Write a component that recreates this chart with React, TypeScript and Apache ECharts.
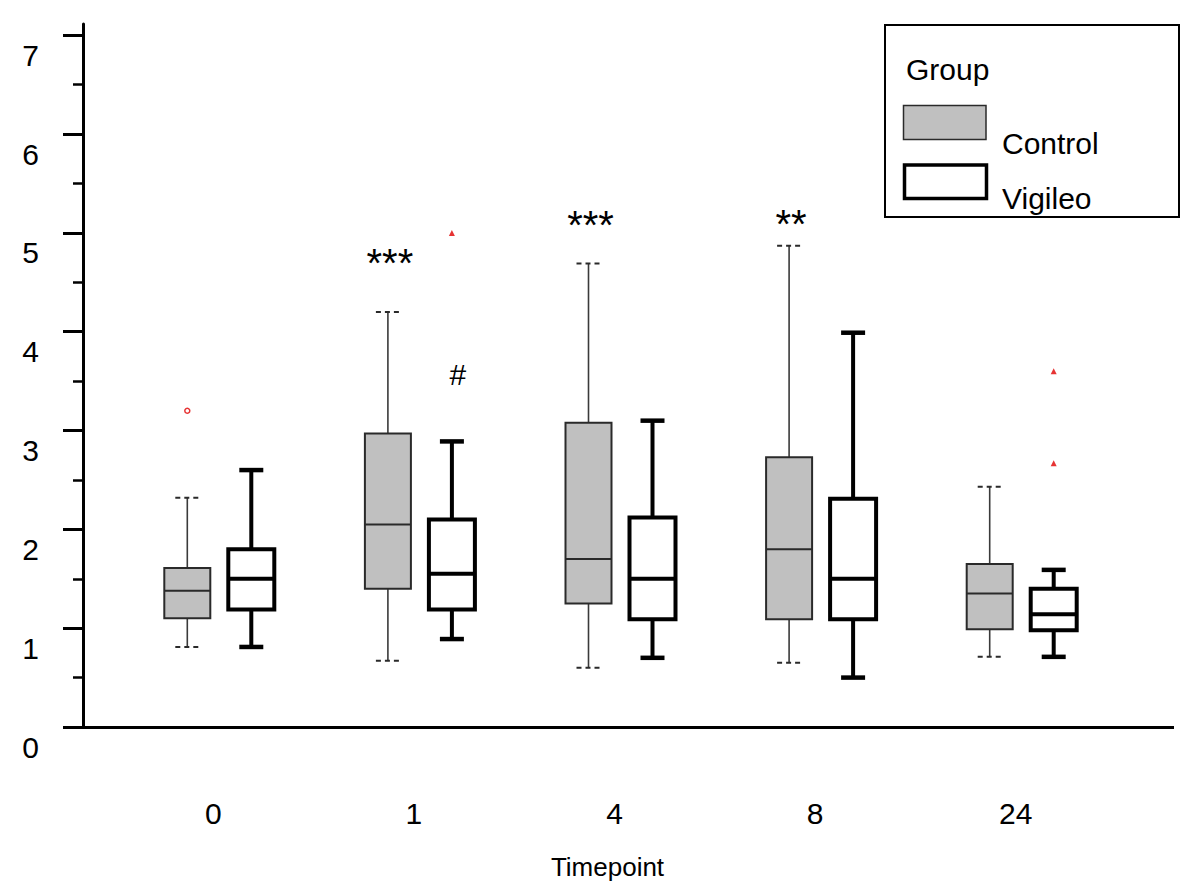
import React, { useEffect, useRef } from "react";
import * as echarts from "echarts";

const categories = ["0", "1", "4", "8", "24"];

// Control group box statistics: [min, Q1, median, Q3, max]
const controlMin = [0.81, 0.67, 0.6, 0.65, 0.71];
const controlQ1 = [1.1, 1.4, 1.25, 1.09, 0.99];
const controlMedian = [1.38, 2.05, 1.7, 1.8, 1.35];
const controlQ3 = [1.61, 2.97, 3.08, 2.73, 1.65];
const controlMax = [2.32, 4.2, 4.69, 4.87, 2.43];

// Vigileo group box statistics
const vigileoMin = [0.81, 0.89, 0.7, 0.5, 0.71];
const vigileoQ1 = [1.19, 1.19, 1.09, 1.09, 0.98];
const vigileoMedian = [1.5, 1.55, 1.5, 1.5, 1.14];
const vigileoQ3 = [1.8, 2.1, 2.12, 2.31, 1.4];
const vigileoMax = [2.6, 2.89, 3.1, 3.99, 1.59];

// Outliers: [category index, value]
const controlOutliers = [[0, 3.2]];
const vigileoOutliers = [
  [1, 5.0],
  [4, 3.6],
  [4, 2.67],
];

// Significance annotations: [category index, value, text]
const controlMarks = [
  [1, 4.7, "***"],
  [2, 5.08, "***"],
  [3, 5.09, "**"],
];
const vigileoMarks = [[1, 3.57, "#"]];

const yMajorTicks = [0, 1, 2, 3, 4, 5, 6, 7];
const yMinorTicks = [0.5, 1.5, 2.5, 3.5, 4.5, 5.5, 6.5];

const FONT = "'Liberation Sans', Arial, sans-serif";
const CONTROL_OFFSET = -32;
const VIGILEO_OFFSET = 32;
const BOX_W = 46;
const CAP_W = 24;

function boxData(mins: number[], q1: number[], med: number[], q3: number[], maxs: number[]) {
  return categories.map((_, i) => [i, mins[i], q1[i], med[i], q3[i], maxs[i]]);
}

function makeBoxRenderer(offset: number, opts: any) {
  return (params: any, api: any) => {
    const idx = api.value(0);
    const cx = api.coord([idx, 0])[0] + offset;
    const yMin = api.coord([idx, api.value(1)])[1];
    const yQ1 = api.coord([idx, api.value(2)])[1];
    const yMed = api.coord([idx, api.value(3)])[1];
    const yQ3 = api.coord([idx, api.value(4)])[1];
    const yMax = api.coord([idx, api.value(5)])[1];
    const whiskerStyle = { stroke: opts.whiskerColor, lineWidth: opts.whiskerWidth };
    const capStyle = {
      stroke: opts.capColor,
      lineWidth: opts.capWidth,
      lineDash: opts.capDash || null,
    };
    return {
      type: "group",
      children: [
        { type: "line", shape: { x1: cx, y1: yMin, x2: cx, y2: yQ1 }, style: whiskerStyle },
        { type: "line", shape: { x1: cx, y1: yQ3, x2: cx, y2: yMax }, style: whiskerStyle },
        {
          type: "line",
          shape: { x1: cx - CAP_W / 2, y1: yMin, x2: cx + CAP_W / 2, y2: yMin },
          style: capStyle,
        },
        {
          type: "line",
          shape: { x1: cx - CAP_W / 2, y1: yMax, x2: cx + CAP_W / 2, y2: yMax },
          style: capStyle,
        },
        {
          type: "rect",
          shape: { x: cx - BOX_W / 2, y: yQ3, width: BOX_W, height: yQ1 - yQ3 },
          style: { fill: opts.fill, stroke: opts.boxColor, lineWidth: opts.boxWidth },
        },
        {
          type: "line",
          shape: { x1: cx - BOX_W / 2, y1: yMed, x2: cx + BOX_W / 2, y2: yMed },
          style: { stroke: opts.boxColor, lineWidth: opts.medianWidth },
        },
      ],
    };
  };
}

export default function App() {
  const ref = useRef<HTMLDivElement>(null);
  useEffect(() => {
    if (!ref.current) return;
    const chart = echarts.init(ref.current, null, { renderer: "svg" });

    const textRenderer = (marks: any[], offset: number, font: string) => (params: any, api: any) => {
      const idx = api.value(0);
      const p = api.coord([idx, api.value(1)]);
      return {
        type: "text",
        x: p[0] + offset,
        y: p[1],
        style: {
          text: marks[params.dataIndex][2],
          font,
          fill: "#000",
          align: "center",
          verticalAlign: "middle",
          textAlign: "center",
          textVerticalAlign: "middle",
        },
      };
    };

    const legendText = (text: string, x: number, y: number) => ({
      type: "text",
      x,
      y,
      style: {
        text,
        font: `30px ${FONT}`,
        fill: "#000",
        align: "left",
        verticalAlign: "middle",
        textAlign: "left",
        textVerticalAlign: "middle",
      },
      z: 11,
    });

    const option: any = {
      animation: false,
      backgroundColor: "#fff",
      grid: { left: 119, right: 78, top: 24, bottom: 169, containLabel: false },
      xAxis: {
        type: "category",
        data: categories,
        boundaryGap: true,
        axisLine: { show: false },
        axisTick: { show: false },
        splitLine: { show: false },
        axisLabel: {
          fontSize: 30,
          fontFamily: FONT,
          color: "#000",
          margin: 71,
          lineHeight: 30,
          padding: [0, 12, 0, 0],
        },
        name: "Timepoint",
        nameLocation: "middle",
        nameGap: 127,
        nameTextStyle: {
          fontSize: 26,
          fontFamily: FONT,
          color: "#000",
          lineHeight: 26,
          verticalAlign: "top",
          padding: [0, 26, 0, 0],
        },
      },
      yAxis: [
        {
          type: "value",
          min: 0,
          max: 7.114,
          position: "left",
          offset: 36,
          splitLine: { show: false },
          axisLine: { show: true, lineStyle: { color: "#000", width: 3 } },
          axisTick: {
            show: true,
            length: 20,
            customValues: yMajorTicks,
            lineStyle: { color: "#000", width: 3 },
          },
          axisLabel: {
            show: true,
            customValues: yMajorTicks,
            fontSize: 30,
            fontFamily: FONT,
            color: "#000",
            margin: 44,
            verticalAlign: "top",
            lineHeight: 30,
            padding: [5, 0, 0, 0],
          },
        },
        {
          type: "value",
          min: 0,
          max: 7.114,
          position: "left",
          offset: 36,
          splitLine: { show: false },
          axisLine: { show: false },
          axisTick: {
            show: true,
            length: 10,
            customValues: yMinorTicks,
            lineStyle: { color: "#000", width: 2.5 },
          },
          axisLabel: { show: false },
        },
      ],
      series: [
        {
          type: "custom",
          name: "Control",
          data: boxData(controlMin, controlQ1, controlMedian, controlQ3, controlMax),
          renderItem: makeBoxRenderer(CONTROL_OFFSET, {
            fill: "#c0c0c0",
            boxColor: "#2a2a2a",
            boxWidth: 2,
            medianWidth: 2,
            whiskerColor: "#3a3a3a",
            whiskerWidth: 1.6,
            capColor: "#2a2a2a",
            capWidth: 2,
            capDash: [5, 4],
          }),
          encode: { x: 0, y: [1, 2, 3, 4, 5] },
          z: 2,
        },
        {
          type: "custom",
          name: "Vigileo",
          data: boxData(vigileoMin, vigileoQ1, vigileoMedian, vigileoQ3, vigileoMax),
          renderItem: makeBoxRenderer(VIGILEO_OFFSET, {
            fill: "#fff",
            boxColor: "#000",
            boxWidth: 4,
            medianWidth: 4,
            whiskerColor: "#000",
            whiskerWidth: 4,
            capColor: "#000",
            capWidth: 4.5,
          }),
          encode: { x: 0, y: [1, 2, 3, 4, 5] },
          z: 2,
        },
        {
          type: "scatter",
          name: "Control outliers",
          data: controlOutliers,
          symbol: "circle",
          symbolSize: 5,
          symbolOffset: [CONTROL_OFFSET, 0],
          itemStyle: { color: "#fff", borderColor: "#e00000", borderWidth: 1.5 },
          z: 3,
        },
        {
          type: "scatter",
          name: "Vigileo outliers",
          data: vigileoOutliers,
          symbol: "triangle",
          symbolSize: 6,
          symbolOffset: [VIGILEO_OFFSET, 0],
          itemStyle: { color: "#e00000" },
          z: 3,
        },
        {
          type: "custom",
          name: "Control marks",
          data: controlMarks.map((m) => [m[0], m[1]]),
          renderItem: textRenderer(controlMarks, CONTROL_OFFSET + 2, `40px ${FONT}`),
          encode: { x: 0, y: 1 },
          z: 4,
        },
        {
          type: "custom",
          name: "Vigileo marks",
          data: vigileoMarks.map((m) => [m[0], m[1]]),
          renderItem: textRenderer(vigileoMarks, VIGILEO_OFFSET + 6, `30px ${FONT}`),
          encode: { x: 0, y: 1 },
          z: 4,
        },
      ],
      graphic: [
        {
          type: "line",
          shape: { x1: 63, y1: 727.5, x2: 1174, y2: 727.5 },
          style: { stroke: "#000", lineWidth: 3 },
          z: 10,
        },
        {
          type: "rect",
          shape: { x: 885, y: 25, width: 294, height: 192 },
          style: { fill: "#fff", stroke: "#000", lineWidth: 2 },
          z: 10,
        },
        legendText("Group", 906, 69),
        {
          type: "rect",
          shape: { x: 903.5, y: 105.5, width: 82.5, height: 34 },
          style: { fill: "#c0c0c0", stroke: "#2a2a2a", lineWidth: 1.5 },
          z: 11,
        },
        legendText("Control", 1002, 143),
        {
          type: "rect",
          shape: { x: 904.5, y: 165, width: 82, height: 33.5 },
          style: { fill: "#fff", stroke: "#000", lineWidth: 3.5 },
          z: 11,
        },
        legendText("Vigileo", 1002, 198),
      ],
    };
    chart.setOption(option);
    return () => chart.dispose();
  }, []);
  return <div ref={ref} style={{ width: 1200, height: 896, position: "absolute", left: 0, top: 0 }} />;
}
